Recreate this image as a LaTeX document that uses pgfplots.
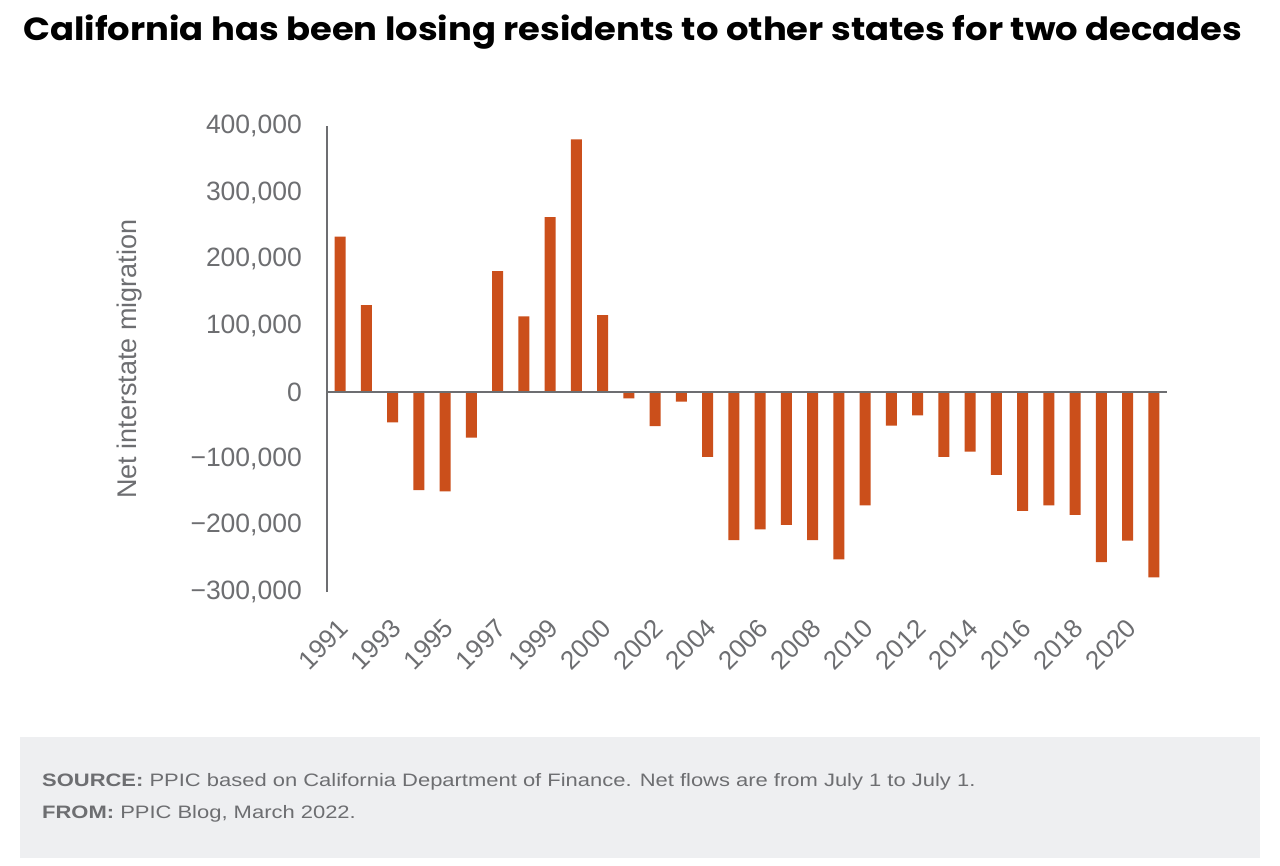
\documentclass[border=0pt]{standalone}
\usepackage{pgfplots}
\pgfplotsset{compat=1.18}
\usepackage{pgfplotstable}
\usepackage{fontspec}
\setmainfont{Liberation Sans}
\newfontfamily\titlefont{Poppins}[FakeStretch=1.105]
\newfontfamily\footfont{Liberation Sans}[FakeStretch=1.22]
\definecolor{barc}{HTML}{CB4F1B}
\definecolor{txtgrey}{HTML}{6D6E71}
\definecolor{axgrey}{HTML}{6D6E71}
\definecolor{footbg}{HTML}{EEEFF1}
\pgfplotstableread{
idx val
0 234000
1 131000
2 -45000
3 -147000
4 -149000
5 -68000
6 182000
7 114000
8 263000
9 380000
10 116000
11 -9000
12 -51000
13 -14000
14 -97000
15 -222000
16 -206000
17 -199000
18 -222000
19 -251000
20 -170000
21 -50000
22 -34500
23 -97000
24 -89000
25 -124000
26 -178000
27 -170000
28 -184000
29 -255000
30 -223000
31 -278000
}\migration
\begin{document}
\begin{tikzpicture}
\fill[white] (0,0) rectangle (1280bp,-866bp);
\fill[footbg] (20bp,-737bp) rectangle (1260bp,-858bp);
\node[anchor=base west, inner sep=0pt, font=\titlefont\bfseries\fontsize{32bp}{38bp}\selectfont] at (23bp,-40bp) {California has been losing residents to other states for two decades};
\node[anchor=base west, inner sep=0pt, text=txtgrey, font=\footfont\fontsize{18bp}{22bp}\selectfont] at (42bp,-786.7bp) {\textbf{SOURCE:} PPIC based on California Department of Finance. Net flows are from July 1 to July 1.};
\node[anchor=base west, inner sep=0pt, text=txtgrey, font=\footfont\fontsize{18bp}{22bp}\selectfont] at (42bp,-818.3bp) {\textbf{FROM:} PPIC Blog, March 2022.};
\begin{axis}[
  at={(327bp,-592bp)}, anchor=south west,
  scale only axis, width=840bp, height=466bp,
  xmin=-0.5, xmax=31.5, ymin=-300000, ymax=400000,
  scaled y ticks=false,
  axis line style={draw=none},
  major tick length=0pt,
  ytick={-300000,-200000,-100000,0,100000,200000,300000,400000},
  yticklabels={{−300,000},{−200,000},{−100,000},{0},{100,000},{200,000},{300,000},{400,000}},
  xtick={0,2,...,30},
  xticklabels={1991,1993,1995,1997,1999,2000,2002,2004,2006,2008,2010,2012,2014,2016,2018,2020},
  y tick label style={xshift=-25bp, anchor=east, inner sep=0pt, text=txtgrey, font=\fontsize{26.5bp}{30bp}\selectfont},
  x tick label style={xshift=-3bp, yshift=-25bp, rotate=45, anchor=north east, inner sep=0pt, text=txtgrey, font=\fontsize{26bp}{30bp}\selectfont},
  ylabel={Net interstate migration},
  ylabel style={at={(axis description cs:-0.235,0.5)}, anchor=center, rotate=0, text=txtgrey, font=\fontsize{27bp}{30bp}\selectfont},
  clip=false,
]
\addplot[ybar, bar width=11bp, fill=barc, draw=none] table[x=idx, y=val] {\migration};
\draw[axgrey, line width=2bp] (axis cs:-0.5,0) -- (axis cs:31.5,0);
\draw[axgrey, line width=2bp] (rel axis cs:0,0) -- (rel axis cs:0,1);
\end{axis}
\end{tikzpicture}
\end{document}
